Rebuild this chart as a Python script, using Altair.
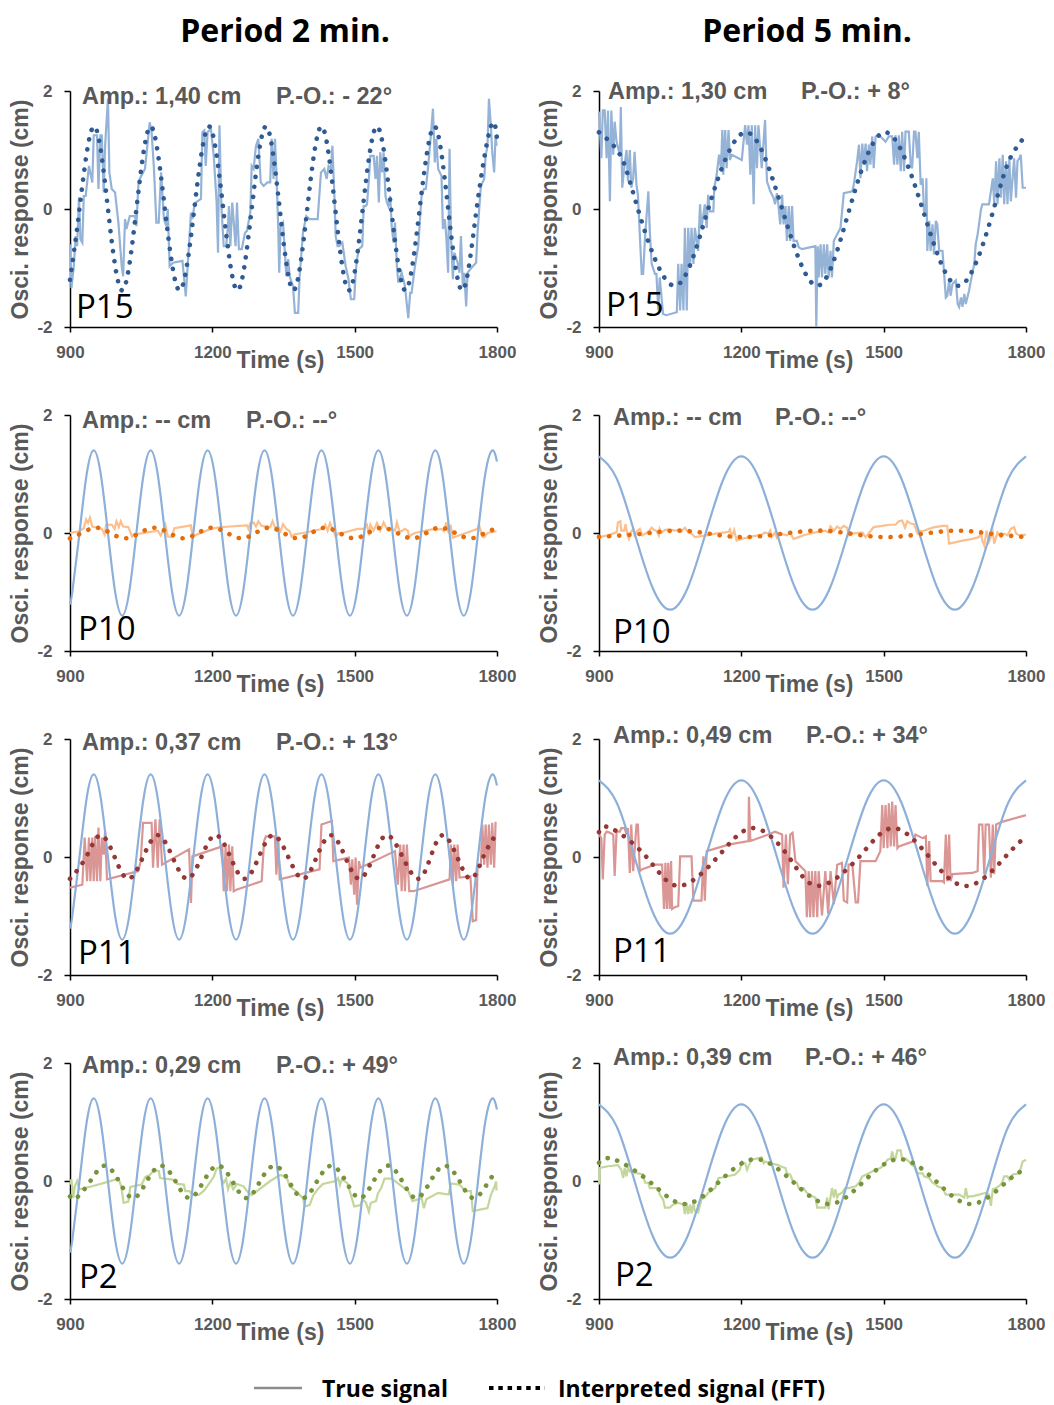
import altair as alt
import pandas as pd

# ---------------------------------------------------------------- data
TRUE_2MIN_T = [900, 905, 920, 935, 950, 965, 980, 995, 1010, 1025, 1040, 1055, 1070, 1085, 1100, 1115,
               1130, 1145, 1160, 1175, 1190, 1205, 1220, 1235, 1250, 1265, 1280, 1295, 1310, 1325,
               1340, 1355, 1370, 1385, 1400, 1415, 1430, 1445, 1460, 1475, 1490, 1505, 1520, 1535,
               1550, 1565, 1580, 1595, 1610, 1625, 1640, 1655, 1670, 1685, 1700, 1715, 1730, 1745,
               1760, 1775, 1790, 1800]
TRUE_2MIN_V = [-1.21, -0.99, 0, 0.99, 1.4, 0.99, 0, -0.99, -1.4,
               -0.99, 0, 0.99, 1.4, 0.99, 0, -0.99, -1.4,
               -0.99, 0, 0.99, 1.4, 0.99, 0, -0.99, -1.4,
               -0.99, 0, 0.99, 1.4, 0.99, 0, -0.99, -1.4,
               -0.99, 0, 0.99, 1.4, 0.99, 0, -0.99, -1.4,
               -0.99, 0, 0.99, 1.4, 0.99, 0, -0.99, -1.4,
               -0.99, 0, 0.99, 1.4, 0.99, 0, -0.99, -1.4,
               -0.99, 0, 0.99, 1.4, 1.21]
TRUE_5MIN_T = [900, 937.5, 975, 1012.5, 1050, 1087.5, 1125, 1162.5, 1200, 1237.5, 1275, 1312.5, 1350,
               1387.5, 1425, 1462.5, 1500, 1537.5, 1575, 1612.5, 1650, 1687.5, 1725, 1762.5, 1800]
TRUE_5MIN_V = [1.3, 0.92, 0, -0.92, -1.3, -0.92, 0, 0.92, 1.3, 0.92, 0, -0.92, -1.3,
               -0.92, 0, 0.92, 1.3, 0.92, 0, -0.92, -1.3, -0.92, 0, 0.92, 1.3]

# interpreted (FFT) signals
P15_2_FFT_T = [900, 920, 950, 980, 1010, 1040, 1070, 1100, 1131, 1162, 1193, 1223, 1253, 1283, 1313,
               1342, 1371, 1400, 1430, 1459, 1488, 1517, 1547, 1577, 1607, 1637, 1668, 1697, 1727,
               1757, 1787, 1800]
P15_2_FFT_V = [-1.2, 0, 1.4, 0, -1.38, 0, 1.4, 0, -1.38, 0, 1.4, 0, -1.38, 0, 1.4, 0, -1.38, 0, 1.4,
               0, -1.38, 0, 1.4, 0, -1.38, 0, 1.4, 0, -1.38, 0, 1.4, 1.2]
P15_5_FFT_T = [900, 945, 982, 1057, 1130, 1210, 1286, 1360, 1428, 1503, 1582, 1660, 1732, 1766, 1800]
P15_5_FFT_V = [1.3, 0.91, 0, -1.3, 0, 1.3, 0, -1.3, 0, 1.3, 0, -1.3, 0, 0.85, 1.25]
P10_2_FFT_T = [900, 925, 955, 985, 1016, 1047, 1078, 1109, 1140, 1170, 1200, 1231, 1262, 1291, 1320,
               1350, 1380, 1409, 1438, 1468, 1499, 1528, 1558, 1590, 1622, 1651, 1680, 1712, 1745,
               1775, 1800]
P10_2_FFT_V = [-0.09, 0, 0.09, 0, -0.09, 0, 0.09, 0, -0.09, 0, 0.09, 0, -0.09, 0, 0.09, 0, -0.09, 0,
               0.09, 0, -0.09, 0, 0.09, 0, -0.09, 0, 0.09, 0, -0.09, 0, 0.08]
P10_5_FFT_T = [900, 988, 1065, 1135, 1205, 1284, 1363, 1434, 1505, 1581, 1658, 1729, 1800]
P10_5_FFT_V = [-0.065, -0.015, 0.04, -0.015, -0.07, -0.015, 0.04, -0.015, -0.07, -0.015, 0.04,
               -0.015, -0.07]
P11_2_FFT_T = [900, 934, 964, 994, 1023, 1054, 1085, 1116, 1147, 1177, 1207, 1238, 1268, 1298, 1328,
               1360, 1391, 1420, 1450, 1480, 1510, 1539, 1568, 1601, 1634, 1660, 1686, 1716, 1745,
               1771, 1797]
P11_2_FFT_V = [-0.37, 0, 0.37, 0, -0.37, 0, 0.37, 0, -0.37, 0, 0.37, 0, -0.37, 0, 0.37, 0, -0.37, 0,
               0.37, 0, -0.37, 0, 0.37, 0, -0.37, 0, 0.37, 0, -0.37, 0, 0.37]
P11_5_FFT_T = [900, 925, 1000, 1067, 1150, 1225, 1300, 1362, 1448, 1520, 1596, 1676, 1756, 1800]
P11_5_FFT_V = [0.42, 0.49, 0, -0.49, 0, 0.49, 0, -0.49, 0, 0.49, 0, -0.49, 0, 0.35]
P2_2_FFT_T = [900, 913, 943, 973, 1003, 1033, 1062, 1092, 1122, 1152, 1182, 1212, 1242, 1272, 1301,
              1331, 1361, 1391, 1421, 1451, 1481, 1511, 1540, 1570, 1600, 1630, 1660, 1690, 1721,
              1752, 1783, 1800]
P2_2_FFT_V = [-0.26, -0.29, 0, 0.26, 0, -0.29, 0, 0.26, 0, -0.29, 0, 0.26, 0, -0.29, 0, 0.26, 0,
              -0.29, 0, 0.26, 0, -0.29, 0, 0.26, 0, -0.29, 0, 0.26, 0, -0.29, 0, 0.15]
P2_5_FFT_T = [900, 930, 1005, 1080, 1155, 1230, 1307, 1385, 1459, 1533, 1610, 1686, 1761, 1800]
P2_5_FFT_V = [0.31, 0.37, 0, -0.39, 0, 0.37, 0, -0.39, 0, 0.37, 0, -0.39, 0, 0.2]

# measured responses (time s, response cm)
P15_2_RESP = [(900,-0.60),(903,-1.34),(908,-0.97),(912,-0.46),(915,-0.63),(919,0.20),(922,-0.51),(926,-0.57),
    (929,0.22),(933,0.22),(940,0.73),(947,0.45),(950,1.25),(957,1.25),(960,0.34),(964,1.25),(967,1.25),
    (971,0.28),(974,1.07),(980,1.87),(983,0.62),(988,0.34),(995,0.28),(1002,-0.23),(1009,-0.97),(1012,-1.14),
    (1016,-0.17),(1019,-0.34),(1026,-0.12),(1037,-0.12),(1040,-0.29),(1044,0.39),(1047,0.51),(1054,0.62),
    (1058,0.68),(1068,1.47),(1072,1.30),(1077,0.68),(1082,-0.23),(1087,-0.23),(1092,0.62),(1098,-0.17),
    (1103,-0.29),(1106,0.00),(1110,-0.97),(1117,-0.91),(1137,-0.88),(1144,-1.48),(1148,-0.97),(1155,-0.06),
    (1158,-0.17),(1162,0.05),(1165,0.11),(1176,0.17),(1179,1.30),(1183,1.33),(1186,0.73),(1190,1.30),
    (1197,1.36),(1203,0.90),(1209,0.11),(1212,-0.74),(1215,1.42),(1219,0.05),(1224,-0.63),(1229,-0.63),
    (1233,-0.29),(1235,0.05),(1238,-0.63),(1242,0.11),(1249,-0.63),(1252,0.11),(1256,-0.68),(1262,-0.68),
    (1269,-0.40),(1273,-0.37),(1280,-0.06),(1283,0.73),(1287,0.68),(1292,1.07),(1297,1.19),(1302,0.45),
    (1308,0.39),(1316,0.45),(1322,0.45),(1325,1.19),(1329,0.51),(1332,1.19),(1335,0.62),(1339,-0.34),
    (1341,-1.08),(1344,-0.29),(1349,-0.23),(1356,-1.14),(1360,-0.85),(1363,-1.14),(1370,-1.31),(1374,-1.76),
    (1381,-1.76),(1384,-1.14),(1391,-0.40),(1398,-0.12),(1405,-0.17),(1422,-0.17),(1429,0.62),(1436,0.68),
    (1441,0.51),(1445,0.73),(1450,0.68),(1453,1.07),(1457,0.28),(1460,-0.46),(1464,-0.63),(1467,-0.63),
    (1474,-0.57),(1481,-0.97),(1487,-1.19),(1492,-1.53),(1499,-1.53),(1502,-1.08),(1505,-0.85),(1509,-0.68),
    (1516,-0.63),(1519,0.05),(1523,0.05),(1526,0.08),(1530,0.51),(1533,0.90),(1540,0.90),(1544,0.51),
    (1547,0.90),(1551,0.11),(1554,0.96),(1558,0.62),(1561,0.96),(1565,0.22),(1568,0.11),(1571,0.05),
    (1575,0.22),(1578,-0.29),(1582,-0.57),(1585,-0.23),(1589,-0.97),(1592,-1.25),(1599,-1.08),(1606,-1.31),
    (1613,-1.85),(1617,-1.42),(1620,-1.42),(1627,-0.97),(1634,-0.63),(1641,0.22),(1646,0.34),(1650,0.34),
    (1655,0.73),(1660,1.19),(1665,1.70),(1669,0.79),(1672,1.19),(1676,0.68),(1683,0.56),(1686,-0.34),
    (1690,-0.17),(1693,-0.46),(1697,-1.08),(1700,1.02),(1703,-0.46),(1707,-1.19),(1710,-0.74),(1717,-0.91),
    (1721,-1.08),(1724,-0.46),(1728,-1.31),(1731,-1.08),(1735,-1.65),(1738,-1.08),(1744,-1.02),(1749,-0.97),
    (1756,-0.91),(1759,-0.40),(1762,-0.06),(1766,0.39),(1773,0.51),(1776,0.90),(1780,1.07),(1783,1.87),
    (1787,1.42),(1790,0.96),(1794,0.62),(1797,1.25),(1799,1.07)]

P15_5_RESP = [(900,1.65),(905,0.86),(908,1.67),(912,1.67),(916,0.86),(919,1.67),(923,0.13),(926,1.67),
    (930,0.92),(933,1.48),(937,1.14),(944,0.92),(946,1.73),(949,0.36),(954,0.75),(958,1.00),(961,0.47),
    (965,1.00),(968,0.36),(972,0.52),(975,0.97),(979,0.41),(982,0.24),(986,-0.43),(990,-1.10),(993,-1.10),
    (997,-0.49),(1004,0.30),(1007,-0.37),(1011,-0.93),(1018,-1.10),(1021,-1.10),(1025,-1.72),(1028,-1.16),
    (1035,-1.78),(1042,-1.80),(1064,-1.75),(1067,-0.93),(1071,-1.72),(1074,-0.93),(1078,-1.72),(1081,-0.32),
    (1085,-1.72),(1088,-0.32),(1092,-0.99),(1095,-0.32),(1099,-0.93),(1102,-0.32),(1109,-0.71),(1113,0.08),
    (1116,-0.32),(1123,0.08),(1127,-0.32),(1130,0.24),(1134,-0.04),(1141,-0.04),(1143,0.36),(1148,0.58),
    (1153,0.92),(1157,0.69),(1160,1.34),(1162,0.58),(1166,1.34),(1169,0.69),(1173,1.34),(1176,0.83),
    (1180,0.92),(1201,0.83),(1208,1.42),(1212,1.09),(1215,1.42),(1219,0.58),(1222,1.42),(1226,0.08),
    (1229,1.42),(1233,0.69),(1236,1.42),(1243,0.69),(1250,1.51),(1254,0.47),(1261,0.30),(1268,0.19),
    (1271,0.08),(1275,0.27),(1278,0.08),(1282,-0.26),(1286,0.24),(1289,-0.26),(1293,0.05),(1296,-0.54),
    (1300,0.05),(1303,-0.54),(1307,0.05),(1310,-0.54),(1317,-0.54),(1321,-0.65),(1328,-0.68),(1356,-0.63),
    (1358,-2.0),(1361,-0.63),(1363,-1.16),(1367,-0.60),(1370,-1.16),(1374,-0.60),(1377,-1.10),(1381,-0.60),
    (1384,-1.16),(1388,-0.71),(1391,-1.16),(1395,-0.54),(1402,-0.43),(1409,-0.32),(1416,0.27),(1434,0.30),
    (1437,0.41),(1444,0.81),(1448,1.09),(1451,0.52),(1455,1.11),(1458,0.75),(1462,1.11),(1465,0.64),
    (1469,1.09),(1472,0.75),(1476,1.23),(1479,0.69),(1483,1.23),(1490,1.25),(1497,1.20),(1504,1.14),
    (1511,1.23),(1518,1.23),(1522,0.75),(1525,1.25),(1529,0.75),(1532,1.25),(1536,0.64),(1539,1.31),
    (1543,0.64),(1546,1.31),(1553,1.31),(1557,0.75),(1560,0.69),(1564,1.31),(1567,1.31),(1571,0.86),
    (1574,1.31),(1578,0.41),(1582,0.52),(1585,-0.04),(1589,-0.09),(1590,0.52),(1592,-0.71),(1596,-0.20),
    (1599,-0.71),(1603,-0.26),(1606,-0.77),(1610,-0.20),(1613,-0.26),(1617,-0.71),(1624,-0.71),(1627,-1.05),
    (1631,-1.50),(1634,-1.47),(1638,-1.21),(1641,-1.47),(1645,-1.27),(1652,-1.21),(1656,-1.61),(1659,-1.66),
    (1663,-1.50),(1666,-1.66),(1670,-1.44),(1673,-1.61),(1680,-1.38),(1684,-1.21),(1691,-0.93),(1694,-0.60),
    (1698,-0.43),(1701,-0.26),(1705,-0.01),(1708,0.08),(1722,0.08),(1726,0.30),(1730,0.52),(1733,0.10),
    (1737,0.81),(1740,0.08),(1744,0.86),(1747,0.19),(1751,0.92),(1754,0.08),(1758,0.81),(1761,0.08),
    (1765,0.86),(1768,0.13),(1775,0.86),(1779,0.19),(1782,0.81),(1786,0.86),(1789,0.92),(1793,0.36),
    (1800,0.36)]

P10_2_RESP = [(900,0.00),(919,0.03),(929,0.08),(934,0.23),(938,0.17),(942,0.26),(947,0.11),(967,0.07),
    (973,-0.03),(976,0.14),(988,0.14),(994,0.07),(998,0.20),(1003,0.10),(1007,0.20),(1012,0.11),(1023,0.10),
    (1031,-0.06),(1035,-0.02),(1047,-0.01),(1085,0.04),(1091,-0.04),(1096,0.04),(1101,0.14),(1106,-0.06),
    (1115,-0.07),(1120,0.08),(1155,0.13),(1158,-0.06),(1163,-0.04),(1197,0.07),(1217,0.10),(1238,0.11),
    (1256,0.12),(1273,0.13),(1276,0.07),(1280,0.17),(1287,0.18),(1292,0.11),(1297,0.20),(1304,0.12),
    (1322,0.10),(1327,0.20),(1332,0.10),(1339,0.10),(1344,0.03),(1349,0.15),(1356,0.07),(1363,0.03),
    (1367,-0.06),(1374,-0.02),(1391,0.00),(1433,0.07),(1438,0.14),(1443,0.04),(1448,0.17),(1453,0.07),
    (1460,-0.06),(1466,0.00),(1474,0.00),(1506,0.07),(1519,0.07),(1526,0.14),(1530,-0.04),(1533,0.14),
    (1540,0.04),(1547,0.17),(1554,0.04),(1561,0.18),(1568,0.07),(1578,0.07),(1585,0.04),(1589,0.18),
    (1594,0.04),(1599,0.03),(1606,0.07),(1612,0.04),(1615,-0.06),(1620,-0.03),(1627,0.00),(1662,0.06),
    (1676,0.06),(1683,0.07),(1688,0.03),(1693,0.18),(1698,0.00),(1702,0.14),(1707,-0.08),(1714,-0.06),
    (1759,0.07),(1762,0.14),(1769,-0.06),(1773,-0.07),(1780,0.00),(1799,0.03)]

P10_5_RESP = [(900,-0.07),(919,-0.04),(937,0.01),(940,0.18),(945,0.20),(947,0.04),(953,0.04),(956,0.15),
    (960,-0.04),(963,-0.10),(967,0.01),(972,0.07),(975,-0.04),(981,0.04),(986,0.07),(991,-0.04),(1000,0.00),
    (1007,0.05),(1011,0.09),(1016,0.05),(1021,0.04),(1026,-0.04),(1028,0.07),(1032,0.01),(1039,0.05),
    (1046,0.06),(1060,0.04),(1067,0.05),(1074,0.03),(1081,0.09),(1088,0.01),(1095,-0.01),(1102,-0.07),
    (1109,-0.06),(1127,-0.04),(1145,-0.01),(1166,0.01),(1173,0.02),(1176,0.06),(1180,-0.06),(1185,0.05),
    (1190,-0.13),(1201,-0.10),(1229,-0.05),(1243,-0.03),(1250,0.01),(1257,-0.01),(1261,0.04),(1264,-0.07),
    (1271,0.01),(1275,-0.08),(1282,-0.01),(1296,-0.04),(1303,0.00),(1310,-0.10),(1321,-0.07),(1335,-0.03),
    (1356,0.01),(1370,0.03),(1377,0.04),(1383,0.01),(1388,0.11),(1395,0.04),(1402,0.11),(1409,0.07),
    (1416,0.12),(1423,0.09),(1426,-0.04),(1433,-0.01),(1455,0.01),(1462,-0.07),(1472,0.03),(1479,0.10),
    (1497,0.12),(1511,0.14),(1525,0.14),(1532,0.20),(1539,0.21),(1545,0.09),(1550,0.20),(1557,0.16),
    (1564,0.15),(1571,0.00),(1574,0.04),(1582,0.03),(1589,0.05),(1603,0.09),(1624,0.12),(1634,0.12),
    (1638,-0.18),(1666,-0.13),(1687,-0.10),(1701,-0.07),(1705,0.01),(1708,-0.13),(1712,-0.21),(1717,0.04),
    (1722,-0.15),(1730,0.01),(1733,-0.18),(1740,0.01),(1747,-0.07),(1754,-0.01),(1761,-0.04),(1768,0.07),
    (1775,0.10),(1779,-0.01),(1786,-0.04),(1793,-0.03),(1800,-0.03)]

P11_2_RESP = [(900,-0.52),(926,-0.47),(931,0.33),(936,-0.41),(940,0.33),(943,-0.41),(947,0.33),(950,-0.41),
    (953,0.35),(957,-0.41),(960,0.50),(964,-0.41),(967,0.33),(971,0.04),(974,0.44),(978,-0.38),
    (1044,-0.24),(1049,-0.07),(1054,0.58),(1072,0.58),(1075,-0.18),(1080,0.64),(1085,-0.18),(1089,0.64),
    (1094,-0.13),(1151,0.13),(1155,-0.78),(1158,0.01),(1221,0.18),(1224,-0.58),(1228,0.18),(1231,-0.58),
    (1235,0.21),(1238,-0.58),(1242,0.18),(1245,-0.58),(1252,-0.55),(1304,-0.41),(1309,0.27),(1313,0.35),
    (1332,0.35),(1335,-0.30),(1339,0.33),(1342,-0.38),(1426,-0.21),(1430,0.55),(1452,0.61),(1455,-0.07),
    (1488,-0.01),(1492,-0.47),(1495,-0.04),(1499,-0.64),(1502,-0.01),(1505,-0.81),(1509,-0.07),(1512,-0.18),
    (1585,0.10),(1591,-0.47),(1596,0.21),(1599,-0.58),(1603,0.21),(1606,-0.58),(1610,0.21),(1615,-0.58),
    (1624,-0.58),(1700,-0.38),(1703,0.21),(1707,-0.47),(1710,0.21),(1714,-0.41),(1717,0.21),(1721,-0.35),
    (1744,-0.33),(1749,-1.09),(1756,-1.07),(1759,-0.18),(1766,-0.13),(1769,0.55),(1773,-0.13),(1776,0.55),
    (1780,-0.18),(1783,0.55),(1787,-0.13),(1790,0.58),(1794,-0.18),(1797,0.58),(1799,0.58)]

P11_5_RESP = [(900,0.38),(905,0.32),(908,-0.38),(912,0.38),(916,0.43),(923,0.41),(930,0.38),(933,-0.32),
    (937,0.43),(944,0.43),(947,0.49),(954,0.49),(958,0.38),(961,0.49),(965,-0.27),(968,0.55),(972,-0.24),
    (979,0.55),(982,0.55),(986,-0.24),(990,-0.21),(1018,-0.13),(1033,-0.13),(1037,-0.88),(1040,-0.10),
    (1043,-0.88),(1046,-0.10),(1049,-0.88),(1052,-0.07),(1054,-0.88),(1060,-0.85),(1067,-0.83),(1071,0.01),
    (1095,0.01),(1099,-0.74),(1116,-0.74),(1120,0.01),(1123,-0.74),(1127,0.10),(1173,0.21),(1215,0.27),
    (1216,1.02),(1219,0.27),(1257,0.38),(1271,0.43),(1286,0.38),(1289,-0.52),(1294,0.38),(1298,-0.46),
    (1303,0.38),(1308,0.41),(1314,-0.07),(1335,-0.24),(1338,-1.02),(1342,-0.24),(1345,-1.02),(1349,-0.24),
    (1352,-1.02),(1356,-0.24),(1360,-1.02),(1363,-0.24),(1370,-0.99),(1377,-0.24),(1383,-0.96),(1388,-0.24),
    (1395,-0.80),(1402,-0.13),(1412,-0.10),(1416,-0.74),(1423,-0.77),(1426,-0.13),(1434,-0.13),(1441,-0.77),
    (1446,-0.77),(1451,-0.07),(1483,-0.07),(1493,0.10),(1497,0.88),(1500,0.15),(1504,0.88),(1508,0.15),
    (1511,0.91),(1515,0.18),(1518,0.94),(1522,0.18),(1525,0.88),(1529,0.15),(1532,0.18),(1564,0.27),
    (1567,0.38),(1582,0.32),(1589,0.35),(1592,-0.49),(1596,0.27),(1599,-0.41),(1624,-0.41),(1627,-0.43),
    (1631,0.38),(1634,-0.41),(1638,0.38),(1641,-0.41),(1645,-0.29),(1687,-0.27),(1698,-0.24),(1701,0.55),
    (1708,0.55),(1712,-0.29),(1715,0.55),(1722,0.55),(1726,-0.35),(1730,0.55),(1733,-0.29),(1737,0.55),
    (1751,0.60),(1800,0.71)]

P2_2_RESP = [(900,-0.06),(903,0.03),(907,-0.29),(910,-0.09),(915,0.00),(920,-0.14),(947,-0.09),(981,-0.01),
    (1002,0.04),(1008,-0.09),(1013,-0.37),(1023,-0.35),(1027,-0.10),(1051,-0.06),(1059,0.07),(1068,0.10),
    (1077,0.18),(1087,0.17),(1090,0.05),(1120,0.02),(1126,-0.05),(1140,-0.06),(1143,-0.17),(1152,-0.17),
    (1158,-0.24),(1172,-0.23),(1183,-0.16),(1203,0.07),(1209,0.21),(1215,0.23),(1219,0.04),(1224,-0.03),
    (1229,0.04),(1233,-0.14),(1238,-0.03),(1244,-0.14),(1252,-0.05),(1266,-0.09),(1274,-0.18),(1283,-0.24),
    (1294,-0.17),(1322,0.00),(1342,0.10),(1356,0.08),(1363,-0.09),(1376,-0.17),(1391,-0.29),(1395,-0.43),
    (1405,-0.41),(1413,-0.24),(1422,-0.14),(1433,-0.05),(1460,0.00),(1465,0.05),(1469,-0.07),(1473,0.03),
    (1485,-0.04),(1494,-0.29),(1499,-0.43),(1512,-0.41),(1517,-0.31),(1524,-0.37),(1530,-0.52),(1534,-0.37),
    (1545,-0.34),(1549,-0.21),(1556,-0.12),(1563,0.04),(1578,0.04),(1596,-0.07),(1613,-0.17),(1622,-0.34),
    (1641,-0.29),(1646,-0.46),(1651,-0.31),(1676,-0.20),(1698,-0.23),(1703,-0.04),(1721,-0.06),(1733,-0.17),
    (1745,-0.17),(1749,-0.51),(1780,-0.46),(1787,-0.24),(1795,-0.09),(1798,-0.01),(1799,-0.16)]

P2_5_RESP = [(900,-0.06),(901,0.22),(919,0.25),(940,0.27),(947,0.19),(951,0.05),(954,0.22),(958,0.08),
    (961,0.22),(965,0.16),(982,0.13),(993,0.11),(997,-0.03),(1004,-0.03),(1007,-0.12),(1025,-0.12),
    (1028,-0.23),(1035,-0.31),(1039,-0.45),(1049,-0.45),(1056,-0.40),(1067,-0.37),(1078,-0.40),(1081,-0.56),
    (1085,-0.37),(1088,-0.56),(1092,-0.40),(1095,-0.55),(1099,-0.37),(1102,-0.51),(1109,-0.53),(1116,-0.31),
    (1123,-0.28),(1130,-0.20),(1145,-0.12),(1148,-0.03),(1152,0.05),(1159,0.06),(1187,0.11),(1197,0.19),
    (1201,0.33),(1208,0.30),(1212,0.19),(1215,0.25),(1222,0.36),(1243,0.40),(1247,0.30),(1250,0.33),
    (1261,0.30),(1278,0.27),(1282,0.25),(1293,0.22),(1296,0.13),(1303,0.11),(1310,-0.03),(1317,-0.03),
    (1321,-0.12),(1331,-0.12),(1338,-0.20),(1349,-0.26),(1356,-0.28),(1360,-0.45),(1370,-0.45),(1377,-0.45),
    (1381,-0.28),(1384,-0.48),(1391,-0.12),(1395,-0.28),(1398,-0.14),(1402,-0.28),(1405,-0.23),(1412,-0.20),
    (1419,-0.12),(1426,-0.12),(1441,-0.09),(1448,-0.03),(1455,0.08),(1469,0.13),(1483,0.19),(1493,0.22),
    (1500,0.27),(1508,0.36),(1515,0.38),(1518,0.50),(1522,0.36),(1525,0.38),(1529,0.52),(1536,0.52),
    (1539,0.36),(1546,0.38),(1553,0.33),(1560,0.27),(1564,0.25),(1571,0.13),(1582,0.13),(1585,0.08),
    (1596,0.05),(1603,-0.03),(1610,-0.06),(1613,-0.09),(1624,-0.12),(1631,-0.23),(1645,-0.23),(1659,-0.23),
    (1670,-0.28),(1673,-0.12),(1677,-0.28),(1680,-0.26),(1687,-0.26),(1701,-0.23),(1715,-0.20),(1722,-0.23),
    (1726,-0.42),(1730,-0.14),(1737,-0.12),(1747,-0.06),(1751,0.00),(1754,0.08),(1761,0.08),(1765,0.02),
    (1772,0.11),(1786,0.13),(1793,0.33),(1800,0.36)]

TIME_TICKS = [900, 1200, 1500, 1800]
RESP_TICKS = [-2, 0, 2]

# ---------------------------------------------------------------- styling
AX_FONT = "Liberation Sans"
CAL_FONT = "Open Sans"
GRAY = "#595959"
TRUE_COLOR = "#8DB0DA"
W, H = 427, 236


def pairs_df(pairs):
    return pd.DataFrame({"t": [p[0] for p in pairs], "v": [p[1] for p in pairs],
                         "i": list(range(len(pairs)))})


def tv_df(ts, vs):
    return pd.DataFrame({"t": ts, "v": vs})


X_ENC = alt.X("t:Q", scale=alt.Scale(domain=[900, 1800], nice=False, zero=False),
              axis=alt.Axis(values=TIME_TICKS, format="d", title="Time (s)", grid=False,
                            labelFlush=False, labelOverlap=False,
                            domainColor="black", domainWidth=1.5, tickColor="black", tickWidth=1.5,
                            tickSize=5, labelPadding=12, labelFont=AX_FONT, labelFontSize=17,
                            labelFontWeight="bold", labelColor=GRAY, titleFont=AX_FONT,
                            titleFontSize=23, titleFontWeight="bold", titleColor=GRAY,
                            titleX=210, titleY=40, titleBaseline="alphabetic"))
Y_ENC = alt.Y("v:Q", scale=alt.Scale(domain=[-2, 2], nice=False, zero=False),
              axis=alt.Axis(values=RESP_TICKS, labelExpr="datum.value + ''",
                            title="Osci. response (cm)", grid=False,
                            domainColor="black", domainWidth=1.5, tickColor="black", tickWidth=1.5,
                            tickSize=6, labelPadding=12, labelFont=AX_FONT, labelFontSize=17,
                            labelFontWeight="bold", labelColor=GRAY, titleFont=AX_FONT,
                            titleFontSize=23, titleFontWeight="bold", titleColor=GRAY,
                            titlePadding=4))


def text_layer(s, x, y, size, weight, color, font, align="left"):
    return alt.Chart(pd.DataFrame({"s": [s]})).mark_text(
        align=align, baseline="alphabetic", font=font, fontSize=size, fontWeight=weight,
        color=color).encode(x=alt.value(x), y=alt.value(y), text="s:N")


def panel(resp, fft_t, fft_v, resp_color, fft_color, true_t, true_v, label, amp, po,
          amp_x, po_x, txt_y, lab_x, lab_y, title=None, title_x=213, legend=False):
    layers = [alt.Chart(pairs_df(resp)).mark_line(color=resp_color, strokeWidth=2.2).encode(
        x=X_ENC, y=Y_ENC, order="i:Q")]
    if true_t is not None:
        layers.append(alt.Chart(tv_df(true_t, true_v)).mark_line(
            color=TRUE_COLOR, strokeWidth=2.2, interpolate="natural").encode(x=X_ENC, y=Y_ENC))
    layers.append(alt.Chart(tv_df(fft_t, fft_v)).mark_line(
        color=fft_color, strokeWidth=4.6, strokeDash=[0.1, 10], strokeCap="round",
        interpolate="natural").encode(x=X_ENC, y=Y_ENC))
    layers.append(text_layer(amp, amp_x, txt_y, 23.5, "bold", GRAY, AX_FONT))
    layers.append(text_layer(po, po_x, txt_y, 23.5, "bold", GRAY, AX_FONT))
    layers.append(text_layer(label, lab_x, lab_y, 33, "normal", "black", CAL_FONT))
    if title:
        layers.append(text_layer(title, title_x, -49, 32, "bold", "black", CAL_FONT, align="center"))
    if legend:
        one = pd.DataFrame({"a": [0]})
        layers.append(alt.Chart(one).mark_rule(color="#8C8C8C", strokeWidth=2.5).encode(
            x=alt.value(184), x2=alt.value(232), y=alt.value(325)))
        layers.append(text_layer("True signal", 252, 334, 23, "bold", "black", CAL_FONT))
        layers.append(alt.Chart(one).mark_rule(color="black", strokeWidth=4,
                                               strokeDash=[4.5, 4.8]).encode(
            x=alt.value(419), x2=alt.value(475), y=alt.value(325)))
        layers.append(text_layer("Interpreted signal (FFT)", 488, 334, 23, "bold", "black",
                                 CAL_FONT))
    return alt.layer(*layers).properties(width=W, height=H)


panels = [
    panel(P15_2_RESP, P15_2_FFT_T, P15_2_FFT_V, "#95B3D7", "#2E5B94", None, None,
          "P15", "Amp.: 1,40 cm", "P.-O.: - 22°", 12, 206, 13, 6, H - 9,
          title="Period 2 min.", title_x=215),
    panel(P15_5_RESP, P15_5_FFT_T, P15_5_FFT_V, "#95B3D7", "#2E5B94", None, None,
          "P15", "Amp.: 1,30 cm", "P.-O.: + 8°", 9, 202, 8, 7, H - 11,
          title="Period 5 min.", title_x=208),
    panel(P10_2_RESP, P10_2_FFT_T, P10_2_FFT_V, "#FAC08F", "#E46C0A", TRUE_2MIN_T, TRUE_2MIN_V,
          "P10", "Amp.: -- cm", "P.-O.: --°", 12, 176, 13, 8, H - 11),
    panel(P10_5_RESP, P10_5_FFT_T, P10_5_FFT_V, "#FAC08F", "#E46C0A", TRUE_5MIN_T, TRUE_5MIN_V,
          "P10", "Amp.: -- cm", "P.-O.: --°", 14, 176, 10, 14, H - 8),
    panel(P11_2_RESP, P11_2_FFT_T, P11_2_FFT_V, "#DA9694", "#953735", TRUE_2MIN_T, TRUE_2MIN_V,
          "P11", "Amp.: 0,37 cm", "P.-O.: + 13°", 12, 206, 11, 8, H - 11),
    panel(P11_5_RESP, P11_5_FFT_T, P11_5_FFT_V, "#DA9694", "#953735", TRUE_5MIN_T, TRUE_5MIN_V,
          "P11", "Amp.: 0,49 cm", "P.-O.: + 34°", 14, 207, 4, 14, H - 13),
    panel(P2_2_RESP, P2_2_FFT_T, P2_2_FFT_V, "#C3D69B", "#77933C", TRUE_2MIN_T, TRUE_2MIN_V,
          "P2", "Amp.: 0,29 cm", "P.-O.: + 49°", 12, 206, 10, 9, H - 11, legend=True),
    panel(P2_5_RESP, P2_5_FFT_T, P2_5_FFT_V, "#C3D69B", "#77933C", TRUE_5MIN_T, TRUE_5MIN_V,
          "P2", "Amp.: 0,39 cm", "P.-O.: + 46°", 14, 206, 2, 16, H - 13),
]

chart = alt.concat(*panels, columns=2, spacing={"row": 88, "column": 102}, bounds="flush") \
    .configure_view(stroke=None) \
    .properties(background="white", padding={"left": 1, "top": 8, "right": 0, "bottom": 4})

chart.save("out.html", embed_options={"renderer": "svg", "actions": False})
